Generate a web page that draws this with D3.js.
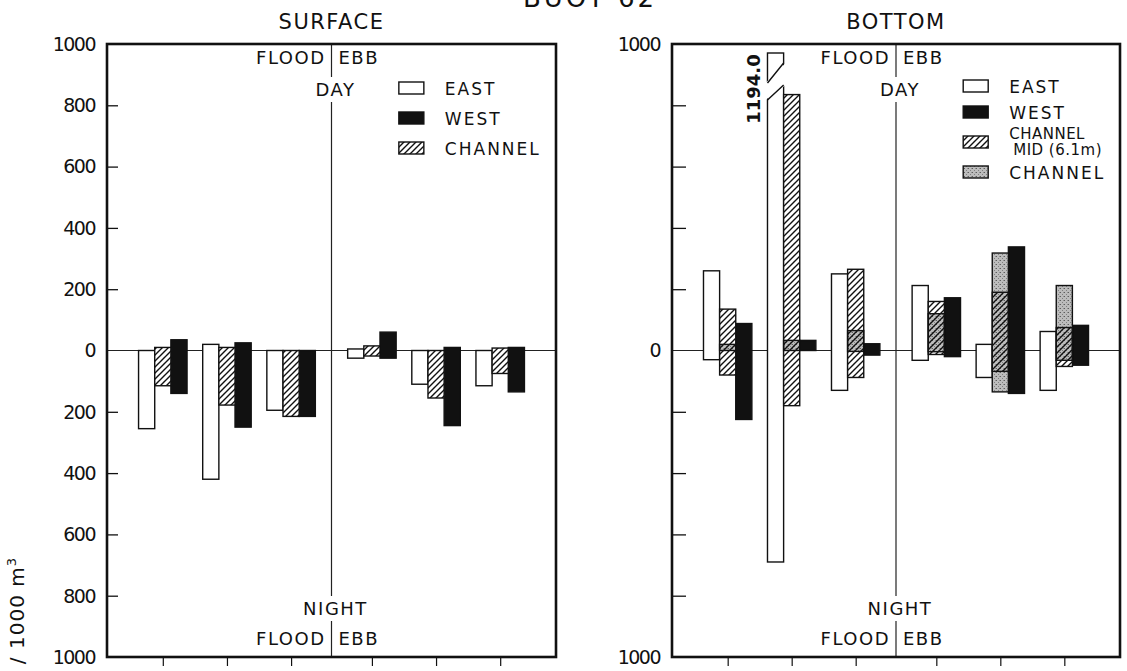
<!DOCTYPE html>
<html>
<head>
<meta charset="utf-8">
<script src="https://cdn.jsdelivr.net/npm/d3@7"></script>
<style>
    body { margin: 0; background: #fff; }
    text { font-family: "DejaVu Sans", sans-serif; fill: #111; }
</style>
</head>
<body>
<div class="vis"></div>
<script>
// ---- data ----
const samples = ["F1", "F2", "F3", "E1", "E2", "E3"];
const floodSamples = ["F1", "F2", "F3"];
const ebbSamples = ["E1", "E2", "E3"];
const yTicks = [-1000, -800, -600, -400, -200, 0, 200, 400, 600, 800, 1000];
const bottomLabelTicks = [-1000, 0, 1000];

// surface: day (up) and night (down) per sample
const surfEastDay = [0, 20, 0, 5, 0, 0];
const surfEastNight = [255, 420, 195, 25, 110, 115];
const surfChanDay = [10, 10, 0, 15, 0, 8];
const surfChanNight = [115, 178, 215, 18, 155, 75];
const surfWestDay = [35, 25, 0, 60, 10, 10];
const surfWestNight = [140, 250, 215, 25, 245, 135];

// bottom
const botEastDay = [260, 1194.0, 250, 212, 20, 62];
const botEastNight = [30, 690, 130, 32, 88, 130];
const botMidDay = [135, 835, 265, 160, 190, 75];
const botMidNight = [80, 180, 88, 13, 68, 52];
const botChanDay = [20, 33, 65, 120, 318, 212];
const botChanNight = [0, 0, 3, 4, 135, 32];
const botWestDay = [88, 33, 22, 172, 338, 82];
const botWestNight = [225, 0, 15, 20, 140, 48];

(function () {
    const svgWidth = 1127;
    const svgHeight = 671;
    const frameTop = 44;
    const frameBottom = 657;

    const svg = d3.select('.vis')
        .append('svg')
            .attr('width', svgWidth)
            .attr('height', svgHeight);

    svg.append('rect').attr('width', svgWidth).attr('height', svgHeight).attr('fill', '#fff');

    // fill patterns
    const defs = svg.append('defs');
    const hatch = defs.append('pattern')
        .attr('id', 'hatch')
        .attr('patternUnits', 'userSpaceOnUse')
        .attr('width', 6).attr('height', 6);
    hatch.append('path')
        .attr('d', 'M-1,1 L1,-1 M0,6 L6,0 M5,7 L7,5')
        .attr('stroke', '#111')
        .attr('stroke-width', 1.4);

    const dots = defs.append('pattern')
        .attr('id', 'dots')
        .attr('patternUnits', 'userSpaceOnUse')
        .attr('width', 4).attr('height', 4);
    dots.append('rect').attr('width', 4).attr('height', 4).attr('fill', '#bcbcbc');
    dots.append('rect').attr('x', 0).attr('y', 0).attr('width', 1).attr('height', 1).attr('fill', '#5e5e5e');
    dots.append('rect').attr('x', 2).attr('y', 2).attr('width', 1).attr('height', 1).attr('fill', '#808080');
    dots.append('rect').attr('x', 3).attr('y', 0).attr('width', 1).attr('height', 1).attr('fill', '#929292');

    const yScale = d3.scaleLinear()
        .domain([-1000, 1000])
        .range([frameBottom, frameTop]);

    const fills = { open: '#fff', solid: '#111', hatch: 'url(#hatch)', dots: 'url(#dots)' };

    // top title, mostly cut off by the page edge
    svg.append('text')
        .attr('x', 590).attr('y', 7)
        .attr('text-anchor', 'middle')
        .style('font-size', '26px')
        .style('letter-spacing', '3px')
        .text('BUOY 62');

    // y axis label, cut off at the bottom left
    svg.append('text')
        .attr('transform', 'translate(24, 557) rotate(-90)')
        .attr('text-anchor', 'end')
        .style('font-size', '20px')
        .style('letter-spacing', '1px')
        .html('/ 1000 m<tspan dy="-8" style="font-size:13px">3</tspan>');

    function drawPanel(p) {
        const g = svg.append('g');
        const width = p.x1 - p.x0;
        const mid = p.x0 + width / 2;

        const xFlood = d3.scalePoint().domain(floodSamples).range([p.x0, mid]).padding(0.75).align(0.58);
        const xEbb = d3.scalePoint().domain(ebbSamples).range([mid, p.x1]).padding(0.75).align(0.42);
        const xScale = d3.scaleOrdinal()
            .domain(samples)
            .range(floodSamples.map(xFlood).concat(ebbSamples.map(xEbb)));
        const colW = width * 0.036;
        const colScale = d3.scaleBand()
            .domain(['east', 'mid', 'west'])
            .range([-1.5 * colW, 1.5 * colW]);

        // zero line and divider
        g.append('line')
            .attr('x1', p.x0).attr('x2', p.x1)
            .attr('y1', yScale(0)).attr('y2', yScale(0))
            .attr('stroke', '#222').attr('stroke-width', 1);
        g.append('line')
            .attr('x1', mid).attr('x2', mid)
            .attr('y1', frameTop).attr('y2', frameBottom)
            .attr('stroke', '#222').attr('stroke-width', 1.2);

        // y axis, ticks pointing inwards
        const yAxis = d3.axisLeft(yScale)
            .tickValues(yTicks.filter(d => Math.abs(d) !== 1000 && d !== 0))
            .tickSize(-p.tickLen)
            .tickFormat('');
        g.append('g')
            .attr('transform', `translate(${p.x0}, 0)`)
            .call(yAxis)
            .call(a => a.select('.domain').remove())
            .selectAll('line').attr('stroke', '#111').attr('stroke-width', 1.3);

        g.selectAll('.ylab')
            .data(p.labelTicks)
            .enter().append('text')
                .attr('class', 'ylab')
                .attr('x', p.x0 - 12)
                .attr('y', d => yScale(d))
                .attr('dy', '0.36em')
                .attr('text-anchor', 'end')
                .style('font-size', '19px')
                .style('letter-spacing', '-1.5px')
                .text(d => Math.abs(d));

        // bottom ticks at sample positions
        const xAxis = d3.axisBottom(xScale).tickSize(9).tickFormat('');
        g.append('g')
            .attr('transform', `translate(0, ${frameBottom})`)
            .call(xAxis)
            .call(a => a.select('.domain').remove())
            .selectAll('line').attr('stroke', '#111').attr('stroke-width', 1.2);

        // bars
        const bars = [];
        p.series.forEach(function (s) {
            samples.forEach(function (name, i) {
                bars.push({
                    key: s.key, style: s.style, sample: name,
                    x: xScale(name) + colScale(s.col),
                    day: s.day[i], night: s.night[i]
                });
            });
        });
        const barTop = d => d.day > 1000 ? yScale(1000) + 9 : yScale(d.day);
        const barH = d => yScale(-d.night) - barTop(d);

        const order = ['open', 'solid', 'hatchUnder', 'dots', 'hatch'];
        order.forEach(function (layer) {
            const sel = bars.filter(d => layer === 'hatchUnder' ? d.style === 'hatch' : d.style === layer);
            g.append('g').selectAll('rect')
                .data(sel)
                .enter().append('rect')
                    .attr('x', d => d.x)
                    .attr('y', barTop)
                    .attr('width', colScale.bandwidth())
                    .attr('height', barH)
                    .attr('fill', layer === 'hatchUnder' ? '#fff' : fills[layer])
                    .attr('stroke', layer === 'hatchUnder' ? 'none' : '#111')
                    .attr('stroke-width', 1.4);
        });

        // broken bar for off-scale values
        bars.filter(d => d.day > 1000).forEach(function (d) {
            const xl = d.x, xr = d.x + colScale.bandwidth();
            const t = yScale(1000);
            g.append('path')
                .attr('d', `M${xl - 2},${t + 39} L${xr + 2},${t + 19} L${xr + 2},${t + 41} L${xl - 2},${t + 56} Z`)
                .attr('fill', '#fff');
            g.append('path')
                .attr('d', `M${xl},${t + 39} L${xr},${t + 19} M${xl},${t + 56} L${xr},${t + 41}`)
                .attr('stroke', '#111').attr('stroke-width', 1.4);
            g.append('text')
                .attr('transform', `translate(${xl - 7}, ${t + 45}) rotate(-90)`)
                .attr('text-anchor', 'middle')
                .style('font-size', '18px')
                .style('font-weight', 'bold')
                .text(d3.format('.1f')(d.day));
        });

        // frame
        g.append('rect')
            .attr('x', p.x0).attr('y', frameTop)
            .attr('width', width).attr('height', frameBottom - frameTop)
            .attr('fill', 'none')
            .attr('stroke', '#111')
            .attr('stroke-width', 2.6);

        // title
        g.append('text')
            .attr('x', mid).attr('y', 29)
            .attr('text-anchor', 'middle')
            .style('font-size', '21px')
            .style('letter-spacing', '1.5px')
            .text(p.title);

        // tide / day-night annotations
        const ann = g.append('g').style('font-size', '18px').style('letter-spacing', '1.5px');
        [[64, 'FLOOD', 'EBB'], [645, 'FLOOD', 'EBB']].forEach(function (r) {
            ann.append('text').attr('x', mid - 6).attr('y', r[0]).attr('text-anchor', 'end').text(r[1]);
            ann.append('text').attr('x', mid + 7).attr('y', r[0]).attr('text-anchor', 'start').text(r[2]);
        });
        [[96, 'DAY'], [615, 'NIGHT']].forEach(function (r) {
            const t = ann.append('text').attr('x', mid + 4).attr('y', r[0]).attr('text-anchor', 'middle').text(r[1]);
            const b = t.node().getBBox();
            ann.insert('rect', 'text')
                .attr('x', b.x - 1).attr('y', b.y - 2)
                .attr('width', b.width + 2).attr('height', b.height + 4)
                .attr('fill', '#fff');
        });

        // legend
        const lx = p.x0 + width * 0.65;
        const leg = g.append('g');
        p.legend.forEach(function (item) {
            const multi = item.label.length > 1;
            leg.append('rect')
                .attr('x', lx).attr('y', item.y - 6)
                .attr('width', 25).attr('height', 12)
                .attr('fill', fills[item.style])
                .attr('stroke', '#111').attr('stroke-width', 1.4);
            item.label.forEach(function (line, j) {
                leg.append('text')
                    .attr('x', lx + 46 + (j > 0 ? 4 : 0))
                    .attr('y', item.y + (multi ? (j === 0 ? -3 : 13) : 7))
                    .style('font-size', multi ? '15px' : '17px')
                    .style('letter-spacing', multi ? '0.5px' : '2px')
                    .text(line);
            });
        });
    }

    drawPanel({
        x0: 107, x1: 556, title: 'SURFACE', tickLen: 11,
        labelTicks: yTicks,
        series: [
            { key: 'east', col: 'east', style: 'open', day: surfEastDay, night: surfEastNight },
            { key: 'channel', col: 'mid', style: 'hatch', day: surfChanDay, night: surfChanNight },
            { key: 'west', col: 'west', style: 'solid', day: surfWestDay, night: surfWestNight }
        ],
        legend: [
            { label: ['EAST'], style: 'open', y: 88 },
            { label: ['WEST'], style: 'solid', y: 118 },
            { label: ['CHANNEL'], style: 'hatch', y: 148 }
        ]
    });

    drawPanel({
        x0: 672, x1: 1120, title: 'BOTTOM', tickLen: 14,
        labelTicks: bottomLabelTicks,
        series: [
            { key: 'east', col: 'east', style: 'open', day: botEastDay, night: botEastNight },
            { key: 'west', col: 'west', style: 'solid', day: botWestDay, night: botWestNight },
            { key: 'channel', col: 'mid', style: 'dots', day: botChanDay, night: botChanNight },
            { key: 'mid', col: 'mid', style: 'hatch', day: botMidDay, night: botMidNight }
        ],
        legend: [
            { label: ['EAST'], style: 'open', y: 86 },
            { label: ['WEST'], style: 'solid', y: 112 },
            { label: ['CHANNEL', 'MID (6.1m)'], style: 'hatch', y: 142 },
            { label: ['CHANNEL'], style: 'dots', y: 172 }
        ]
    });
}(d3));
</script>
</body>
</html>
